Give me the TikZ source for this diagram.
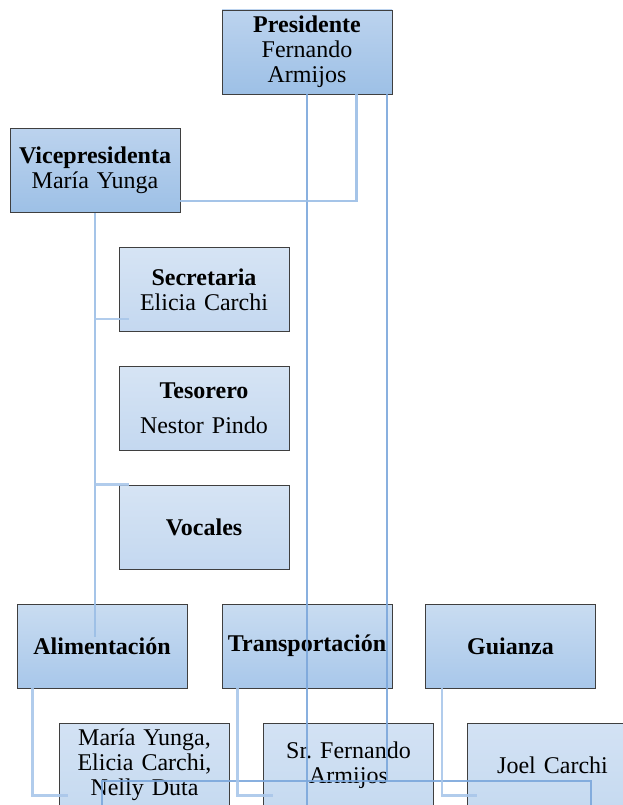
\documentclass[tikz,border=0pt]{standalone}
\usepackage{fontspec}
\setmainfont{Liberation Serif}
\usetikzlibrary{calc}
\frenchspacing

\definecolor{boxline}{HTML}{3F3F3F}
\definecolor{topA}{HTML}{BCD3EE}
\definecolor{topB}{HTML}{9DC0E6}
\definecolor{staffA}{HTML}{D6E4F4}
\definecolor{staffB}{HTML}{C4D8F0}
\definecolor{areaA}{HTML}{C9DCF1}
\definecolor{areaB}{HTML}{A8C7EA}
\definecolor{nameA}{HTML}{D3E2F4}
\definecolor{nameB}{HTML}{C6DAF0}
\definecolor{linkdark}{HTML}{7CA7DB}
\definecolor{linklight}{HTML}{9BBEE6}
\definecolor{linkpale}{HTML}{A9C7EA}

\tikzset{
  orgbox/.style={draw=boxline, line width=0.8pt, minimum width=170pt, minimum height=84pt,
    text width=166pt, align=center, inner sep=1.5pt, font=\fontsize{24}{25}\selectfont},
  headbox/.style={orgbox, top color=topA, bottom color=topB},
  staffbox/.style={orgbox, top color=staffA, bottom color=staffB},
  areabox/.style={orgbox, top color=areaA, bottom color=areaB},
  namebox/.style={orgbox, top color=nameA, bottom color=nameB},
  darklink/.style={draw=linkdark, line width=2.9pt, opacity=0.9},
  lightlink/.style={draw=linklight, line width=2.6pt, opacity=0.9},
  palelink/.style={draw=linkpale, line width=2.6pt, opacity=0.9}
}

\begin{document}
\begin{tikzpicture}[x=1pt, y=-1pt]
  \useasboundingbox (0,0) rectangle (622,805);

  % boxes
  \node[headbox] (pres) at (307,52) {\textbf{Presidente}\\Fernando\\Armijos};
  \node[headbox] (vice) at (95,170.5) {\textbf{Vicepresidenta}\\María Yunga};
  \node[staffbox] (secr) at (204,289.5) {\textbf{Secretaria}\\Elicia Carchi};
  \node[staffbox] (teso) at (204,408) {\textbf{Tesorero}\\[10pt]Nestor Pindo};
  \node[staffbox] (voca) at (204,527) {\textbf{Vocales}};
  \node[areabox] (alim) at (102,646) {\textbf{Alimentación}};
  \node[areabox] (tran) at (307,646) {\textbf{Transportación}};
  \node[areabox] (guia) at (510.5,646) {\textbf{Guianza}};
  \node[namebox] (mayu) at (144.5,765) {María Yunga,\\Elicia Carchi,\\Nelly Duta};
  \node[namebox] (sfer) at (348.5,765) {Sr. Fernando\\Armijos};
  \node[namebox] (joel) at (552.5,765) {Joel Carchi};

  \coordinate (foot) at (0,812);
  \coordinate (bus) at (387,781);
  \coordinate (busend) at (591,781);

  % connectors
  \draw[darklink] (pres.south) -- (pres.south |- foot);
  \draw[lightlink] ($(pres.south east)+(-36,0)$) |- ($(vice.south east)+(0,-12)$);
  \draw[darklink] (pres.south east -| bus) -- (bus);
  \draw[darklink] (alim |- foot) |- (busend) -- (busend |- foot);
  \draw[lightlink] (vice.south) -- +(0,424);
  \draw[palelink] ($(secr.south west)+(10,-13)$) -- ++(-35,0);
  \draw[palelink] ($(voca.north west)+(10,0)$) -- ++(-35,0);
  \draw[palelink] ($(alim.south west)+(16,0)$) |- ($(mayu.south west)+(9,-12)$);
  \draw[palelink] ($(tran.south west)+(16,0)$) |- ($(sfer.south west)+(10,-12)$);
  \draw[palelink] ($(guia.south west)+(17,0)$) |- ($(joel.south west)+(10,-12)$);
\end{tikzpicture}
\end{document}
